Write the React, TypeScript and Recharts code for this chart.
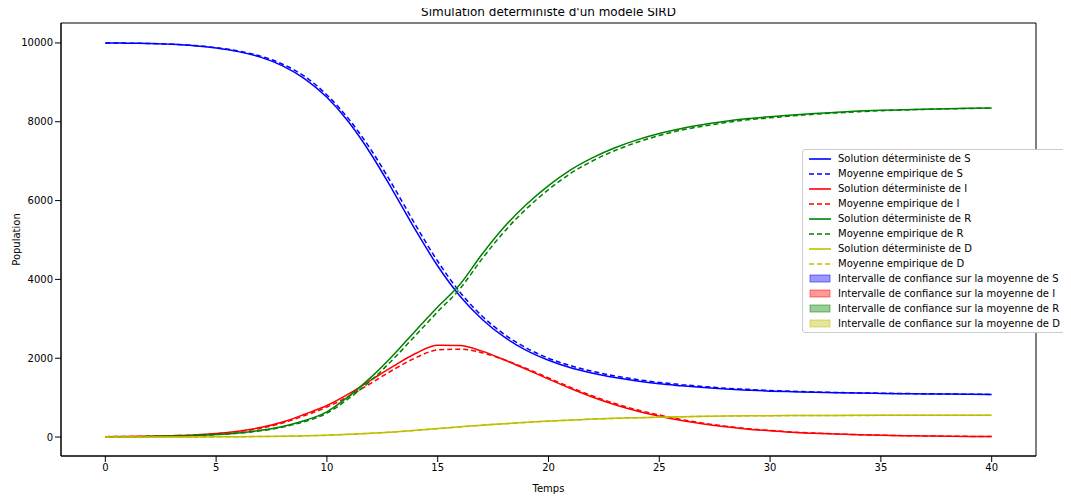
import React from 'react'
import { ComposedChart, Line, XAxis, YAxis, ReferenceArea } from 'recharts'

const temps = Array.from({ length: 41 }, (_, i) => i)

const sDet = [10000, 9995, 9985, 9965, 9930, 9870, 9780, 9640, 9420, 9090, 8620, 7980, 7170, 6230, 5250, 4340, 3580, 2990, 2540, 2200, 1950, 1760, 1620, 1510, 1420, 1350, 1300, 1255, 1220, 1190, 1165, 1150, 1135, 1125, 1115, 1108, 1100, 1095, 1090, 1085, 1080]
const sMoy = [10000, 9995, 9986, 9968, 9935, 9880, 9795, 9665, 9460, 9150, 8680, 8060, 7280, 6360, 5380, 4460, 3680, 3070, 2610, 2260, 2000, 1810, 1665, 1550, 1460, 1385, 1330, 1280, 1240, 1210, 1180, 1160, 1145, 1130, 1120, 1112, 1104, 1098, 1092, 1087, 1082]
const iDet = [10, 15, 20, 35, 55, 90, 150, 240, 380, 580, 800, 1100, 1450, 1800, 2120, 2330, 2320, 2180, 1960, 1720, 1470, 1230, 1010, 820, 660, 530, 420, 330, 260, 200, 160, 120, 95, 75, 58, 45, 35, 27, 21, 16, 12]
const iMoy = [10, 14, 19, 32, 50, 82, 138, 222, 355, 545, 760, 1040, 1370, 1710, 2010, 2210, 2230, 2140, 1960, 1740, 1500, 1260, 1040, 850, 690, 560, 445, 350, 275, 212, 168, 127, 100, 78, 60, 47, 36, 28, 22, 17, 13]
const rDet = [0, 5, 12, 25, 40, 65, 105, 170, 270, 420, 640, 1040, 1520, 2080, 2700, 3300, 3870, 4640, 5330, 5900, 6380, 6780, 7090, 7340, 7540, 7700, 7830, 7930, 8010, 8080, 8130, 8170, 8210, 8240, 8270, 8290, 8305, 8320, 8330, 8340, 8350]
const rMoy = [0, 5, 11, 23, 37, 60, 97, 158, 252, 395, 605, 985, 1440, 1980, 2580, 3180, 3760, 4520, 5210, 5790, 6280, 6690, 7010, 7270, 7480, 7650, 7790, 7890, 7980, 8050, 8100, 8150, 8190, 8225, 8255, 8280, 8300, 8315, 8328, 8338, 8345]
const dDet = [0, 0, 1, 2, 3, 5, 8, 13, 20, 32, 48, 70, 98, 130, 170, 215, 260, 300, 340, 375, 405, 430, 455, 475, 490, 505, 515, 525, 532, 538, 542, 545, 547, 549, 550, 551, 552, 553, 554, 554, 555]
const dMoy = [0, 0, 1, 2, 3, 5, 8, 12, 19, 30, 46, 68, 95, 127, 167, 212, 257, 297, 337, 372, 402, 428, 453, 473, 489, 504, 514, 524, 531, 537, 541, 544, 546, 548, 549, 550, 551, 552, 553, 554, 554]

const xTicks = [0, 5, 10, 15, 20, 25, 30, 35, 40]
const yTicks = [0, 2000, 4000, 6000, 8000, 10000]

const lignes = [
  { key: 'sDet', name: 'Solution déterministe de S', color: '#0000ff', dash: undefined },
  { key: 'sMoy', name: 'Moyenne empirique de S', color: '#0000ff', dash: '5 3' },
  { key: 'iDet', name: 'Solution déterministe de I', color: '#ff0000', dash: undefined },
  { key: 'iMoy', name: 'Moyenne empirique de I', color: '#ff0000', dash: '5 3' },
  { key: 'rDet', name: 'Solution déterministe de R', color: '#008000', dash: undefined },
  { key: 'rMoy', name: 'Moyenne empirique de R', color: '#008000', dash: '5 3' },
  { key: 'dDet', name: 'Solution déterministe de D', color: '#bfbf00', dash: undefined },
  { key: 'dMoy', name: 'Moyenne empirique de D', color: '#bfbf00', dash: '5 3' },
]
const intervalles = [
  { name: 'Intervalle de confiance sur la moyenne de S', color: '#0000ff' },
  { name: 'Intervalle de confiance sur la moyenne de I', color: '#ff0000' },
  { name: 'Intervalle de confiance sur la moyenne de R', color: '#008000' },
  { name: 'Intervalle de confiance sur la moyenne de D', color: '#bfbf00' },
]

const data = temps.map((t, i) => ({
  t,
  sDet: sDet[i], sMoy: sMoy[i],
  iDet: iDet[i], iMoy: iMoy[i],
  rDet: rDet[i], rMoy: rMoy[i],
  dDet: dDet[i], dMoy: dMoy[i],
}))

const Legende = () => (
  <div style={{ position: 'absolute', left: 794, top: 141, whiteSpace: 'nowrap', border: '1px solid #ccc', borderRadius: 3, background: 'white', padding: '1px 4px', fontSize: 10, lineHeight: '15px', color: '#000' }}>
    {lignes.map(l => (
      <div key={l.key} style={{ display: 'flex', alignItems: 'center' }}>
        <svg width={24} height={10} style={{ marginRight: 7 }}>
          <line x1={2} y1={5} x2={24} y2={5} stroke={l.color} strokeWidth={1.6} strokeDasharray={l.dash} />
        </svg>
        {l.name}
      </div>
    ))}
    {intervalles.map(l => (
      <div key={l.name} style={{ display: 'flex', alignItems: 'center' }}>
        <svg width={24} height={10} style={{ marginRight: 7 }}>
          <rect x={3} y={1} width={20} height={7} fill={l.color} fillOpacity={0.4} stroke={l.color} strokeOpacity={0.5} />
        </svg>
        {l.name}
      </div>
    ))}
  </div>
)

export default function App() {
  return (
    <div style={{ position: 'relative', width: 1055, height: 488, fontFamily: 'DejaVu Sans, sans-serif' }}>
      <div style={{ position: 'absolute', top: -3, left: 53, width: 975, textAlign: 'center', fontSize: 12 }}>
        Simulation déterministe d'un modèle SIRD
      </div>
      <ComposedChart width={1055} height={488} data={data} margin={{ top: 15, right: 27, bottom: 4, left: 8 }}>
        <XAxis dataKey="t" type="number" domain={[-2, 42]} ticks={xTicks} allowDataOverflow
          tick={{ fill: '#000', fontSize: 10 }} tickLine={{ stroke: '#000' }} axisLine={{ stroke: '#000' }} height={36}
          label={{ value: 'Temps', position: 'insideBottom', offset: 0, fill: '#000', fontSize: 10 }} />
        <YAxis type="number" domain={[-481, 10506]} ticks={yTicks} allowDataOverflow
          tick={{ fill: '#000', fontSize: 10 }} tickLine={{ stroke: '#000' }} axisLine={{ stroke: '#000' }} width={45}
          label={{ value: 'Population', angle: -90, position: 'insideLeft', offset: 0, fill: '#000', fontSize: 10, style: { textAnchor: 'middle' } }} />
        <ReferenceArea x1={-2} x2={42} y1={-481} y2={10506} fill="none" stroke="#000" strokeWidth={1} />
        {lignes.map(l => (
          <Line key={l.key} dataKey={l.key} name={l.name} type="monotone" stroke={l.color} strokeWidth={1.5}
            strokeDasharray={l.dash} dot={false} isAnimationActive={false} />
        ))}
      </ComposedChart>
      <Legende />
    </div>
  )
}
